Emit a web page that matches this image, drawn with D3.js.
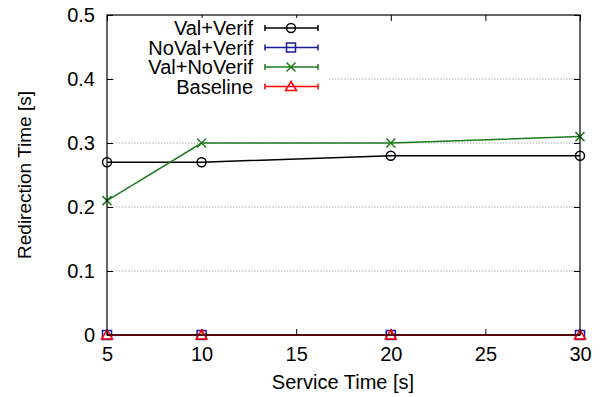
<!DOCTYPE html>
<html>
<head>
<meta charset="utf-8">
<script src="https://cdn.jsdelivr.net/npm/d3@7"></script>
<style>
  body { margin: 0; background: #fff; }
  text { font-family: "Liberation Sans", Arial, sans-serif; fill: #000; }
</style>
</head>
<body>
<div id="chart"></div>
<script>
// service times on x
const serviceTimes = [5, 10, 20, 30];
const valVerif = [0.27, 0.27, 0.28, 0.28];
const noValVerif = [0, 0, 0, 0];
const valNoVerif = [0.21, 0.30, 0.30, 0.31];
const baseline = [0, 0, 0, 0];
const xTicks = [5, 10, 15, 20, 25, 30];
const yTicks = [0, 0.1, 0.2, 0.3, 0.4, 0.5];

const series = [
  { name: 'Val+Verif', values: valVerif, color: '#000000', marker: 'circle' },
  { name: 'NoVal+Verif', values: noValVerif, color: '#1a1a9a', marker: 'square' },
  { name: 'Val+NoVerif', values: valNoVerif, color: '#1e7a1e', marker: 'cross' },
  { name: 'Baseline', values: baseline, color: '#ff0000', marker: 'triangle' }
];

const w = 603, h = 397;
const pLeft = 107, pRight = 580, pTop = 15, pBottom = 335;

let svg = d3.select('#chart')
            .append('svg')
            .attr('width', w)
            .attr('height', h);

const x = d3.scaleLinear().domain([5, 30]).range([pLeft, pRight]);
const y = d3.scaleLinear().domain([0, 0.5]).range([pBottom, pTop]);

// dotted grid lines
svg.selectAll('.grid')
  .data(yTicks.filter(d => d > 0 && d < 0.5))
  .enter()
    .append('line')
    .attr('x1', pLeft).attr('x2', pRight)
    .attr('y1', d => y(d)).attr('y2', d => y(d))
    .attr('stroke', '#999').attr('stroke-width', 0.8)
    .attr('stroke-dasharray', '1.5,1.5');

// ticks on all four sides (gnuplot mirror)
const yAxis = d3.axisLeft(y).tickValues(yTicks).tickFormat(d => d === 0 ? '0' : d3.format('.1f')(d)).tickSize(-6).tickPadding(12);
const xAxis = d3.axisBottom(x).tickValues(xTicks).tickFormat(d3.format('d')).tickSize(-6).tickPadding(10);

let gy = svg.append('g').attr('transform', `translate(${pLeft},0)`).call(yAxis);
let gx = svg.append('g').attr('transform', `translate(0,${pBottom})`).call(xAxis);
svg.append('g').attr('transform', `translate(${pRight},0)`)
  .call(d3.axisRight(y).tickValues(yTicks).tickSize(-6).tickFormat(''));
svg.append('g').attr('transform', `translate(0,${pTop})`)
  .call(d3.axisTop(x).tickValues(xTicks).tickSize(-6).tickFormat(''));

svg.selectAll('.domain').remove();
svg.selectAll('.tick line').attr('stroke', '#000');
gy.selectAll('text').style('font-size', '20px');
gx.selectAll('text').style('font-size', '20px').attr('dy', '0.8em');

// legend background
svg.append('rect')
  .attr('x', 115).attr('y', 18).attr('width', 213).attr('height', 78)
  .attr('fill', '#fff');

// lines
const line = d3.line().x((d, i) => x(serviceTimes[i])).y(d => y(d));

function drawMarker(g, type, cx, cy, color) {
  if (type === 'circle') {
    g.append('circle').attr('cx', cx).attr('cy', cy).attr('r', 4.5)
      .attr('fill', 'none').attr('stroke', color).attr('stroke-width', 1.5);
  } else if (type === 'square') {
    g.append('rect').attr('x', cx - 4.5).attr('y', cy - 4.5).attr('width', 9).attr('height', 9)
      .attr('fill', 'none').attr('stroke', color).attr('stroke-width', 1.5);
  } else if (type === 'cross') {
    g.append('path').attr('d', `M${cx - 4.5},${cy - 4.5}L${cx + 4.5},${cy + 4.5}M${cx - 4.5},${cy + 4.5}L${cx + 4.5},${cy - 4.5}`)
      .attr('stroke', color).attr('stroke-width', 1.5);
  } else {
    g.append('path').attr('d', `M${cx},${cy - 5}L${cx + 5.5},${cy + 4}L${cx - 5.5},${cy + 4}Z`)
      .attr('fill', 'none').attr('stroke', color).attr('stroke-width', 1.5);
  }
}

series.forEach(s => {
  let g = svg.append('g');
  g.append('path').datum(s.values)
    .attr('d', line)
    .attr('fill', 'none')
    .attr('stroke', s.color)
    .attr('stroke-width', 1.5);
  s.values.forEach((v, i) => drawMarker(g, s.marker, x(serviceTimes[i]), y(v), s.color));
});

// border
svg.append('rect')
  .attr('x', pLeft).attr('y', pTop).attr('width', pRight - pLeft).attr('height', pBottom - pTop)
  .attr('fill', 'none').attr('stroke', '#000').attr('stroke-width', 1.2);

// legend
series.forEach((s, i) => {
  let ly = 28 + i * 19.5;
  let g = svg.append('g');
  g.append('text').attr('x', 253).attr('y', ly).attr('dy', '0.36em')
    .attr('text-anchor', 'end').style('font-size', '20px').text(s.name);
  g.append('line').attr('x1', 265).attr('x2', 318).attr('y1', ly).attr('y2', ly)
    .attr('stroke', s.color).attr('stroke-width', 1.5);
  g.append('line').attr('x1', 265).attr('x2', 265).attr('y1', ly - 3).attr('y2', ly + 3)
    .attr('stroke', s.color).attr('stroke-width', 1.5);
  g.append('line').attr('x1', 318).attr('x2', 318).attr('y1', ly - 3).attr('y2', ly + 3)
    .attr('stroke', s.color).attr('stroke-width', 1.5);
  drawMarker(g, s.marker, 291, ly, s.color);
});

// axis titles
svg.append('text')
  .attr('x', 343).attr('y', 389)
  .attr('text-anchor', 'middle').style('font-size', '20px')
  .text('Service Time [s]');
svg.append('text')
  .attr('transform', `translate(31,${(pTop + pBottom) / 2}) rotate(-90)`)
  .attr('text-anchor', 'middle').style('font-size', '19px')
  .text('Redirection Time [s]');
</script>
</body>
</html>
